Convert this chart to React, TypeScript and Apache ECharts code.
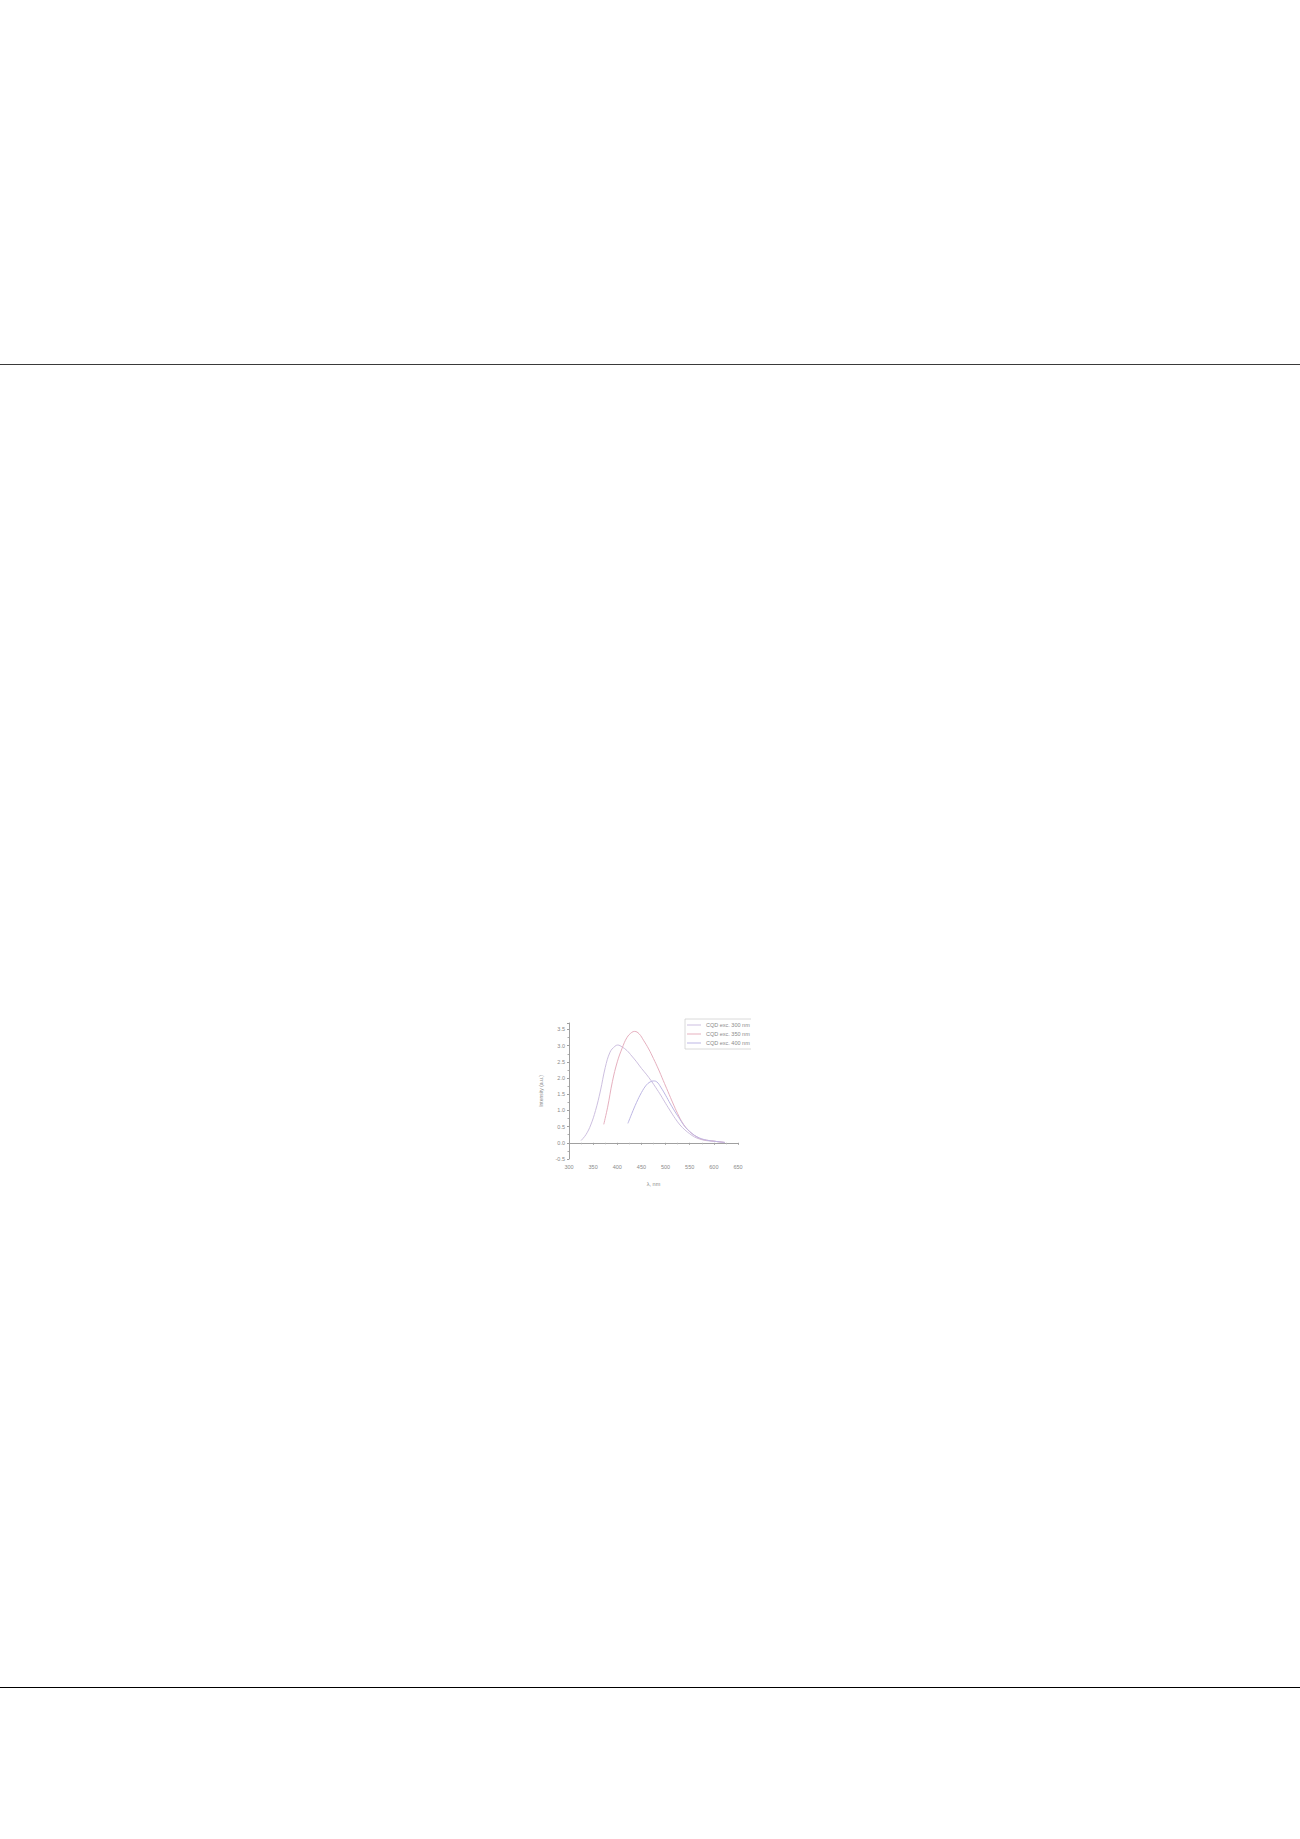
import React, { useEffect, useRef } from 'react';
import * as echarts from 'echarts';

// emission spectra
const legendNames = ['CQD exc. 300 nm', 'CQD exc. 350 nm', 'CQD exc. 400 nm'];
const lineColors = ['#cdbfe0', '#e6b0bf', '#bdb6e4'];

const wl300 = [325, 335, 345, 355, 365, 375, 385, 395, 401, 410, 420, 430, 440, 450, 460, 470, 480, 490, 500, 510, 520, 530, 540, 550, 560, 570, 580, 590, 600, 610, 622];
const int300 = [0.07, 0.25, 0.55, 1.0, 1.6, 2.32, 2.8, 2.98, 3.02, 2.96, 2.85, 2.68, 2.5, 2.3, 2.12, 1.92, 1.7, 1.47, 1.22, 0.98, 0.75, 0.55, 0.4, 0.28, 0.18, 0.12, 0.08, 0.06, 0.05, 0.03, 0.01];

const wl350 = [372, 380, 390, 400, 410, 420, 430, 436, 445, 455, 465, 475, 485, 495, 505, 515, 525, 535, 545, 555, 565, 575, 585, 600, 612, 623];
const int350 = [0.57, 1.1, 1.9, 2.5, 2.92, 3.25, 3.41, 3.44, 3.37, 3.15, 2.9, 2.6, 2.28, 1.93, 1.58, 1.23, 0.9, 0.62, 0.42, 0.28, 0.18, 0.11, 0.08, 0.05, 0.03, 0.01];

const wl400 = [422, 430, 440, 450, 460, 468, 475, 482, 490, 500, 510, 520, 530, 540, 550, 560, 570, 580, 590, 600, 612, 623];
const int400 = [0.6, 0.9, 1.25, 1.55, 1.78, 1.88, 1.91, 1.88, 1.72, 1.47, 1.2, 0.95, 0.72, 0.5, 0.35, 0.23, 0.15, 0.1, 0.07, 0.05, 0.03, 0.01];

const spectra = [
  { x: wl300, y: int300 },
  { x: wl350, y: int350 },
  { x: wl400, y: int400 },
];

const SpectraChart: React.FC = () => {
  const chartRef = useRef<HTMLDivElement>(null);

  useEffect(() => {
    if (!chartRef.current) return;
    const chart = echarts.init(chartRef.current, undefined, { renderer: 'svg' });

    const axisText = { color: '#8a8a8a', fontSize: 5.5, fontFamily: 'Liberation Sans' };

    const option: echarts.EChartsOption = {
      animation: false,
      grid: { left: 33, top: 13, right: 13, bottom: 41 },
      legend: {
        orient: 'vertical',
        left: 155,
        top: 9,
        icon: 'rect',
        itemWidth: 14,
        itemHeight: 1,
        itemGap: 3,
        padding: [3, 3, 3, 2],
        borderColor: '#d0d0d0',
        borderWidth: 0.8,
        textStyle: { color: '#8a8a8a', fontSize: 5.5, lineHeight: 6, fontFamily: 'Liberation Sans' },
        data: legendNames,
      },
      xAxis: {
        type: 'value',
        min: 300,
        max: 650,
        interval: 50,
        name: 'λ, nm',
        nameLocation: 'middle',
        nameGap: 22,
        nameTextStyle: axisText,
        axisLine: { lineStyle: { color: '#a0a0a0', width: 1 } },
        axisTick: { length: 2, lineStyle: { color: '#a0a0a0' } },
        minorTick: { show: true, splitNumber: 2, length: 1.5, lineStyle: { color: '#b0b0b0' } },
        axisLabel: { ...axisText, margin: 5 },
        splitLine: { show: false },
      },
      yAxis: {
        type: 'value',
        min: -0.5,
        max: 3.7,
        interval: 0.5,
        name: 'Intensity (a.u.)',
        nameLocation: 'middle',
        nameRotate: 90,
        nameGap: 26,
        nameTextStyle: { ...axisText, fontSize: 5 },
        axisLine: { show: true, lineStyle: { color: '#a0a0a0', width: 1 } },
        axisTick: { show: true, length: 2, lineStyle: { color: '#a0a0a0' } },
        minorTick: { show: true, splitNumber: 2, length: 1.5, lineStyle: { color: '#b0b0b0' } },
        axisLabel: {
          ...axisText,
          margin: 4,
          showMaxLabel: false,
          formatter: (v: number) => v.toFixed(1),
        },
        splitLine: { show: false },
      },
      series: spectra.map((s, i) => ({
        name: legendNames[i],
        type: 'line',
        smooth: 0.4,
        symbol: 'none',
        lineStyle: { color: lineColors[i], width: 1 },
        itemStyle: { color: lineColors[i] },
        data: s.x.map((x, j) => [x, s.y[j]]),
      })),
    };

    chart.setOption(option);
    return () => chart.dispose();
  }, []);

  return (
    <div
      ref={chartRef}
      style={{ position: 'absolute', left: 530, top: 1010, width: 221, height: 190 }}
    />
  );
};

const App: React.FC = () => (
  <div style={{ position: 'absolute', left: 0, top: 0, width: 1300, height: 1839, background: '#fff' }}>
    <div style={{ position: 'absolute', left: 0, top: 364, width: 1300, height: 1, background: '#3a3a3a' }} />
    <SpectraChart />
    <div style={{ position: 'absolute', left: 0, top: 1687, width: 1300, height: 1, background: '#000' }} />
  </div>
);

export default App;
